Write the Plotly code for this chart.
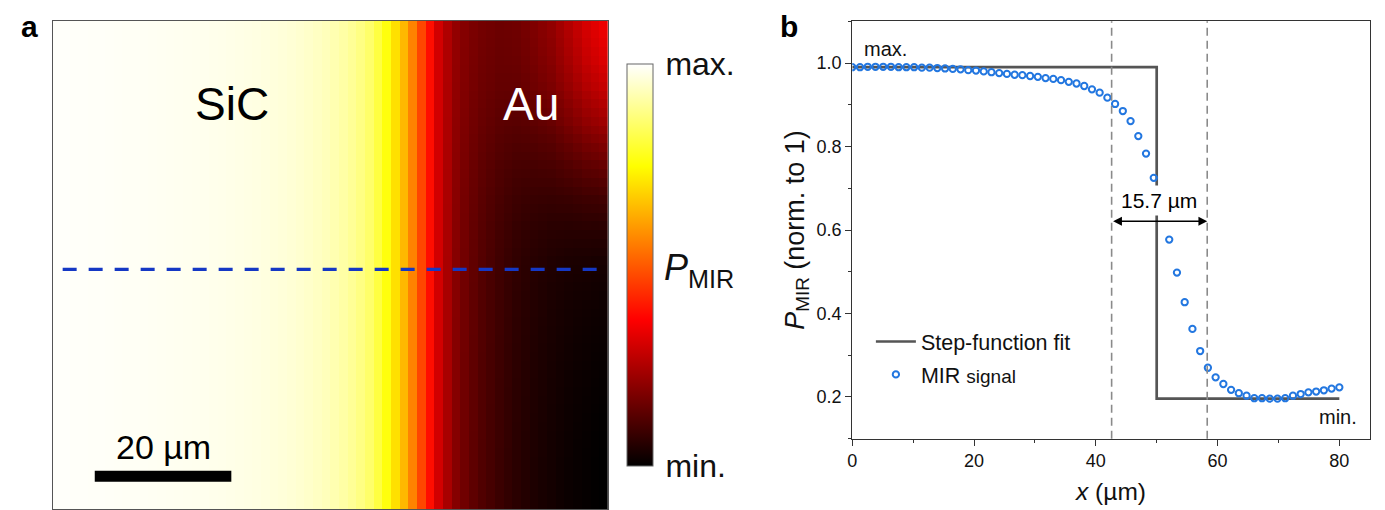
import plotly.graph_objects as go

W, H = 1385, 510
FONT = "Arial, 'Liberation Sans', sans-serif"

# ---------------- line scan (panel b) ----------------
scan_x = [0.00, 1.27, 2.54, 3.81, 5.08, 6.35, 7.62, 8.89, 10.16, 11.43, 12.70, 13.97,
          15.24, 16.51, 17.78, 19.05, 20.32, 21.59, 22.86, 24.13, 25.40, 26.67, 27.94,
          29.21, 30.48, 31.75, 33.02, 34.29, 35.56, 36.83, 38.10, 39.37, 40.63, 41.90,
          43.17, 44.44, 45.71, 46.98, 48.25, 49.52, 50.79, 52.06, 53.33, 54.60, 55.87,
          57.14, 58.41, 59.68, 60.95, 62.22, 63.49, 64.76, 66.03, 67.30, 68.57, 69.84,
          71.11, 72.38, 73.65, 74.92, 76.19, 77.46, 78.73, 80.00]
mir_signal = [0.990, 0.990, 0.991, 0.991, 0.991, 0.991, 0.990, 0.990, 0.990, 0.989, 0.989,
              0.988, 0.987, 0.986, 0.985, 0.983,
              0.982, 0.980, 0.978, 0.976, 0.974, 0.972, 0.971, 0.969, 0.967, 0.964, 0.962,
              0.959, 0.955, 0.951, 0.945, 0.937,
              0.929, 0.917, 0.902, 0.885, 0.861, 0.825, 0.783, 0.725, 0.650, 0.577, 0.498,
              0.427, 0.363, 0.310, 0.270, 0.247,
              0.231, 0.217, 0.209, 0.203, 0.197, 0.197, 0.196, 0.196, 0.197, 0.203, 0.207,
              0.211, 0.213, 0.216, 0.220, 0.223]
step_x = [0, 50, 50, 80]
step_y = [0.99, 0.99, 0.196, 0.196]
edge_positions = [42.6, 58.3]
edge_label = "15.7 µm"
x_ticks = [0, 20, 40, 60, 80]
y_ticks = [0.2, 0.4, 0.6, 0.8, 1.0]

# ---------------- image (panel a), colour-map units 0..1 ----------------
heat_base = [0.995, 0.995, 0.994, 0.994, 0.993, 0.993, 0.992, 0.991, 0.990, 0.990,
             0.989, 0.988, 0.987, 0.986, 0.985, 0.984, 0.983, 0.982, 0.980, 0.979,
             0.977, 0.975, 0.973, 0.971, 0.968, 0.965, 0.962, 0.958, 0.953, 0.947,
             0.940, 0.932, 0.922, 0.910, 0.895, 0.876, 0.852, 0.812, 0.760, 0.700,
             0.640, 0.560, 0.470, 0.385, 0.300, 0.240, 0.190, 0.160, 0.135, 0.115,
             0.100, 0.085, 0.072, 0.060, 0.050, 0.042, 0.035, 0.028, 0.022, 0.016,
             0.011, 0.007, 0.003, 0.000]
heat_top_boost = [0.0] * 44 + [0.00, 0.01, 0.02, 0.03, 0.04, 0.05, 0.06, 0.07, 0.085, 0.10,
                               0.12, 0.14, 0.16, 0.18, 0.21, 0.24, 0.27, 0.30, 0.32, 0.34]
heat_row_weight = [1.00, 0.98, 0.96, 0.94, 0.92, 0.89, 0.86, 0.83, 0.79, 0.75,
                   0.71, 0.67, 0.62, 0.57, 0.52, 0.48, 0.43, 0.39, 0.35, 0.31,
                   0.27, 0.24, 0.21, 0.18, 0.16, 0.14, 0.12, 0.10, 0.09, 0.08,
                   0.070, 0.065, 0.060, 0.055, 0.050, 0.045, 0.040, 0.036, 0.032, 0.028,
                   0.025, 0.022, 0.019, 0.016, 0.013, 0.010, 0.008, 0.006, 0.004, 0.002,
                   0, 0, 0, 0, 0, 0]
pixel_pitch = 80 / 63  # µm per image pixel
scale_bar_um = 20

hot_scale = [[0.0, "#000000"], [0.365, "#ff0000"], [0.746, "#ffff00"], [1.0, "#ffffff"]]

z = [[b + t * w for b, t in zip(heat_base, heat_top_boost)] for w in heat_row_weight]
heat_y = [i * pixel_pitch for i in range(len(heat_row_weight))]


def px(x):
    return x / W


def py(y):
    return 1 - y / H


fig = go.Figure()

fig.add_trace(go.Heatmap(
    z=z, x=scan_x, y=heat_y, zmin=0, zmax=1, colorscale=hot_scale,
    xaxis="x", yaxis="y", hoverinfo="skip",
    colorbar=dict(
        x=px(616.7), xanchor="left", xref="paper", xpad=0, ypad=0,
        y=py(257), yanchor="middle", yref="paper",
        thickness=25.6, thicknessmode="pixels",
        len=402 / H, lenmode="fraction",
        outlinewidth=1, outlinecolor="#666666",
        tickvals=[0, 1], ticktext=["min.", "max."],
        ticks="outside", ticklen=6, tickcolor="rgba(0,0,0,0)",
        tickfont=dict(family=FONT, size=32, color="#111111"),
    ),
))

fig.add_trace(go.Scatter(
    x=step_x, y=step_y, mode="lines", name="Step-function fit",
    line=dict(color="#555555", width=2.7), xaxis="x2", yaxis="y2",
    legendgroup="a",
))
fig.add_trace(go.Scatter(
    x=scan_x, y=mir_signal, mode="markers",
    name="MIR <span style='font-size:19px'>signal</span>",
    marker=dict(symbol="circle-open", size=6.3, color="#2377e0", line=dict(width=2.0, color="#2377e0")),
    xaxis="x2", yaxis="y2", legendgroup="b",
))

half = pixel_pitch / 2

fig.update_layout(
    width=W, height=H, margin=dict(l=0, r=0, t=0, b=0),
    paper_bgcolor="white", plot_bgcolor="white",
    font=dict(family=FONT, color="#111111"),
    xaxis=dict(domain=[px(40), px(597)], range=[-half, scan_x[-1] + half],
               showticklabels=False, ticks="", showgrid=False, zeroline=False,
               showline=True, mirror=True, linecolor="#555555", linewidth=1),
    yaxis=dict(domain=[py(501), py(13)], range=[heat_y[-1] + half, -half],
               showticklabels=False, ticks="", showgrid=False, zeroline=False,
               showline=True, mirror=True, linecolor="#555555", linewidth=1),
    xaxis2=dict(domain=[px(842.3), px(1361.7)], range=[0, 85], anchor="y2",
                tickvals=x_ticks, ticks="outside", ticklen=6, tickwidth=1.3, tickcolor="#333333",
                minor=dict(dtick=10, tick0=0, ticks="outside", ticklen=3, tickwidth=1.2, tickcolor="#333333"),
                showline=True, mirror=True, linecolor="#333333", linewidth=1.3,
                showgrid=False, zeroline=False,
                tickfont=dict(family=FONT, size=18, color="#111111"),
                title=dict(text="<i>x</i> (µm)", font=dict(family=FONT, size=24.5, color="#111111"), standoff=12)),
    yaxis2=dict(domain=[py(430.7), py(13.3)], range=[0.1, 1.1], anchor="x2",
                tickvals=y_ticks, tickformat=".1f", ticks="outside", ticklen=6, tickwidth=1.3, tickcolor="#333333",
                minor=dict(dtick=0.1, tick0=0, ticks="outside", ticklen=3, tickwidth=1.2, tickcolor="#333333"),
                showline=True, mirror=True, linecolor="#333333", linewidth=1.3,
                showgrid=False, zeroline=False,
                tickfont=dict(family=FONT, size=18, color="#111111"),
                title=dict(text="<i>P</i><sub>MIR</sub> (norm. to 1)", font=dict(family=FONT, size=27, color="#111111"), standoff=4)),
    legend=dict(x=px(861), y=py(313), xanchor="left", yanchor="top",
                font=dict(family=FONT, size=21.5, color="#111111"),
                bgcolor="rgba(0,0,0,0)", tracegroupgap=2, itemwidth=40),
    showlegend=True,
)

shapes = []
# dashed profile line across the image
shapes.append(dict(type="line", xref="x", yref="y", x0=0.8, x1=79.3,
                   y0=heat_y[28], y1=heat_y[28],
                   line=dict(color="#1538c4", width=3.3, dash="14px,12px")))
# scale bar
shapes.append(dict(type="rect", xref="x", yref="y", x0=5.5, x1=5.5 + scale_bar_um,
                   y0=64.9, y1=66.5, fillcolor="black", line=dict(width=0)))
# edge markers in panel b
for xe in edge_positions:
    shapes.append(dict(type="line", xref="x2", yref="y2 domain", x0=xe, x1=xe, y0=0, y1=1,
                       line=dict(color="#8a8a8a", width=1.6, dash="8px,5px")))
fig.update_layout(shapes=shapes)

ann = []
ann.append(dict(xref="x", yref="y", x=25.6, y=11.5, text="SiC", showarrow=False,
                font=dict(family=FONT, size=46, color="#000000")))
ann.append(dict(xref="x", yref="y", x=69.4, y=11.5, text="Au", showarrow=False,
                font=dict(family=FONT, size=46, color="#ffffff")))
ann.append(dict(xref="x", yref="y", x=5.5 + scale_bar_um / 2, y=61.4, text=f"{scale_bar_um} µm", showarrow=False,
                font=dict(family=FONT, size=34, color="#000000")))
ann.append(dict(xref="paper", yref="paper", x=px(651), y=py(262), xanchor="left", yanchor="middle",
                text="<i>P</i><sub>MIR</sub>", showarrow=False,
                font=dict(family=FONT, size=36, color="#111111")))
ann.append(dict(xref="paper", yref="paper", x=px(17), y=1, xanchor="center", yanchor="top",
                text="<b>a</b>", showarrow=False, font=dict(family=FONT, size=30, color="#000000")))
ann.append(dict(xref="paper", yref="paper", x=px(779), y=1, xanchor="center", yanchor="top",
                text="<b>b</b>", showarrow=False, font=dict(family=FONT, size=30, color="#000000")))
ann.append(dict(xref="x2", yref="y2", x=1.6, y=1.033, xanchor="left", yanchor="middle",
                text="max.", showarrow=False, font=dict(family=FONT, size=20, color="#111111")))
ann.append(dict(xref="x2", yref="y2", x=83.3, y=0.153, xanchor="right", yanchor="middle",
                text="min.", showarrow=False, font=dict(family=FONT, size=20, color="#111111")))
# double arrow
ann.append(dict(xref="x2", yref="y2", axref="x2", ayref="y2",
                x=edge_positions[1], y=0.621, ax=edge_positions[0], ay=0.621,
                text="", showarrow=True, arrowhead=2, arrowside="end+start",
                arrowsize=1.1, arrowwidth=1.6, arrowcolor="#000000", standoff=0, startstandoff=0))
ann.append(dict(xref="x2", yref="y2", x=50.4, y=0.671, text=edge_label, showarrow=False,
                bgcolor="white", borderpad=3,
                font=dict(family=FONT, size=21, color="#000000")))
fig.update_layout(annotations=ann)

fig.write_html("out.html")
